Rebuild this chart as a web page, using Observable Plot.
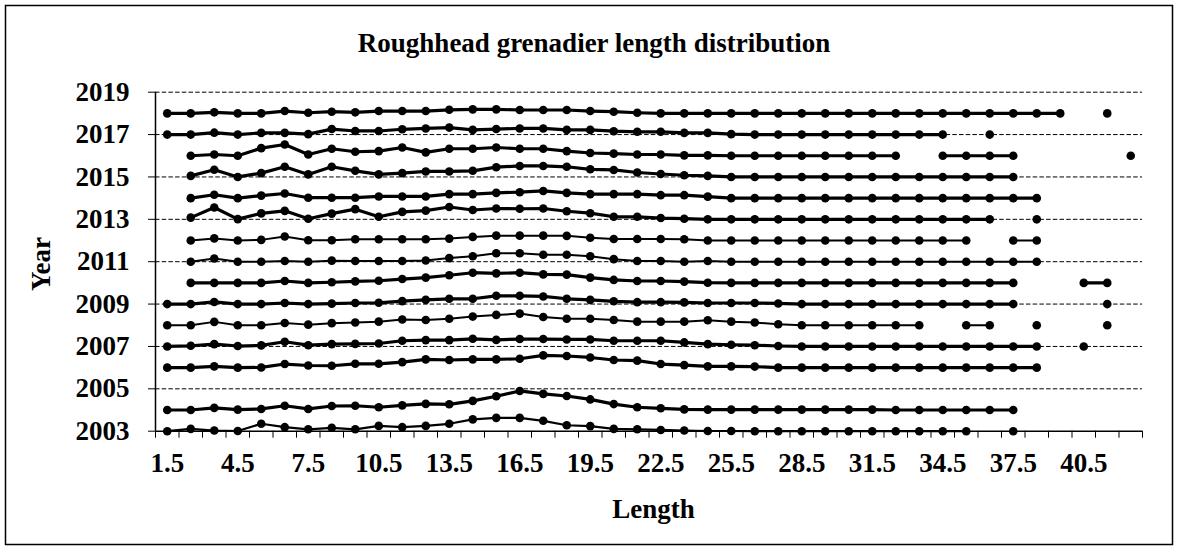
<!DOCTYPE html>
<html>
<head>
<meta charset="utf-8">
<script src="https://cdn.jsdelivr.net/npm/d3@7"></script>
<script src="https://cdn.jsdelivr.net/npm/@observablehq/plot@0.6"></script>
<style>
  body { margin: 0; background: #fff; }
  #chart { width: 1178px; height: 550px; }
</style>
</head>
<body>
<div id="chart"></div>
<script>
// Length classes (category centres)
const lengths = [1.5,2.5,3.5,4.5,5.5,6.5,7.5,8.5,9.5,10.5,11.5,12.5,13.5,14.5,15.5,16.5,17.5,18.5,19.5,20.5,21.5,22.5,23.5,24.5,25.5,26.5,27.5,28.5,29.5,30.5,31.5,32.5,33.5,34.5,35.5,36.5,37.5,38.5,39.5,40.5,41.5,42.5];
const xTickLabels = [1.5,4.5,7.5,10.5,13.5,16.5,19.5,22.5,25.5,28.5,31.5,34.5,37.5,40.5];
const yTicks = [2003,2005,2007,2009,2011,2013,2015,2017,2019];
const gridYears = [2005,2007,2009,2011,2013,2015,2017,2019];
const n = null;

// Height of each length class above the year baseline
const y2003 = [0,0.11,0.03,0.01,0.35,0.19,0.09,0.16,0.09,0.25,0.19,0.25,0.35,0.56,0.63,0.63,0.49,0.28,0.24,0.11,0.09,0.06,0.03,0.01,0.01,0,0,0,0,0,0,0,0,0,0,n,0,n,n,n,n,n];
const y2004 = [0,0,0.1,0.02,0.05,0.2,0.05,0.19,0.2,0.13,0.22,0.29,0.27,0.43,0.65,0.9,0.76,0.66,0.5,0.28,0.13,0.08,0.03,0.02,0.02,0.02,0.02,0.02,0.02,0.02,0.02,0,0,0,0,0,0,n,n,n,n,n];
const y2006 = [0,0,0.06,0,0.01,0.17,0.1,0.09,0.18,0.18,0.26,0.39,0.36,0.39,0.39,0.42,0.58,0.55,0.48,0.36,0.33,0.17,0.12,0.06,0.06,0.05,0,0,0,0,0,0,0,0,0,0,0,0,n,n,n,n];
const y2007 = [0,0.03,0.11,0.02,0.05,0.22,0.06,0.11,0.12,0.14,0.27,0.3,0.3,0.36,0.31,0.35,0.35,0.33,0.33,0.27,0.27,0.27,0.19,0.11,0.08,0.06,0.02,0,0,0,0,0,0,0,0,0,0,0,n,0,n,n];
const y2008 = [0,0,0.16,0,0,0.11,0.03,0.1,0.13,0.17,0.27,0.25,0.31,0.41,0.49,0.55,0.39,0.31,0.31,0.25,0.17,0.17,0.17,0.24,0.17,0.13,0.05,0,0,0,0,0,0,n,0,0,n,0,n,n,0,n];
const y2009 = [0,0,0.1,0,0,0.05,0,0.02,0.05,0.06,0.14,0.2,0.25,0.25,0.39,0.39,0.36,0.25,0.2,0.13,0.09,0.09,0.08,0.05,0.05,0.05,0.03,0,0,0,0,0,0,0,0,0,0,n,n,n,0,n];
const y2010 = [n,0,0,0,0,0.09,0,0.03,0.07,0.1,0.18,0.25,0.36,0.48,0.45,0.48,0.4,0.39,0.25,0.14,0.09,0.09,0.06,0.01,0,0,0,0,0,0,0,0,0,0,0,0,0,n,n,0,0,n];
const y2011 = [n,0,0.15,0,0,0.03,0,0.05,0.03,0.03,0.03,0.06,0.17,0.26,0.4,0.4,0.33,0.33,0.26,0.12,0.03,0.03,0,0.03,0,0,0,0,0,0,0,0,0,0,0,0,0,0,n,n,n,n];
const y2012 = [n,0,0.1,0,0.03,0.19,0.01,0.01,0.06,0.06,0.06,0.06,0.09,0.17,0.23,0.23,0.23,0.22,0.13,0.07,0.07,0.07,0.06,0,0,0,0,0,0,0,0,0,0,0,0,n,0,0,n,n,n,n];
const y2013 = [n,0.08,0.56,0.01,0.28,0.4,0.03,0.27,0.48,0.12,0.35,0.41,0.58,0.44,0.51,0.5,0.51,0.38,0.29,0.12,0.12,0.06,0.03,0,0,0,0,0,0,0,0,0,0,0,0,0,n,0,n,n,n,n];
const y2014 = [n,0,0.16,0,0.12,0.22,0.02,0.02,0.02,0.08,0.08,0.08,0.19,0.19,0.25,0.28,0.34,0.25,0.19,0.19,0.19,0.14,0.14,0.07,0,0,0,0,0,0,0,0,0,0,0,0,0,0,n,n,n,n];
const y2015 = [n,0.05,0.34,0,0.18,0.48,0.12,0.48,0.29,0.12,0.18,0.26,0.26,0.29,0.46,0.52,0.52,0.48,0.36,0.33,0.21,0.14,0.08,0.05,0,0,0,0,0,0,0,0,0,0,0,0,0,n,n,n,n,n];
const y2016 = [n,0,0.06,0,0.36,0.53,0.06,0.33,0.19,0.22,0.39,0.16,0.33,0.33,0.39,0.33,0.33,0.22,0.13,0.1,0.06,0.06,0.02,0.02,0,0,0,0,0,0,0,0,n,0,0,0,0,n,n,n,n,0];
const y2017 = [0,0,0.09,0,0.08,0.08,0.02,0.26,0.17,0.17,0.25,0.29,0.33,0.22,0.26,0.29,0.29,0.22,0.22,0.16,0.13,0.13,0.08,0.08,0.02,0,0,0,0,0,0,0,0,0,n,0,n,n,n,n,n,n];
const y2018 = [0,0,0.05,0,0,0.11,0.03,0.08,0.05,0.11,0.11,0.11,0.17,0.19,0.19,0.16,0.16,0.16,0.11,0.08,0.03,0,0,0,0,0,0,0,0,0,0,0,0,0,0,0,0,0,0,n,0,n];

const seriesList = [
  {year: 2003, values: y2003, w: 2.2},
  {year: 2004, values: y2004, w: 3.2},
  {year: 2006, values: y2006, w: 3.2},
  {year: 2007, values: y2007, w: 3.2},
  {year: 2008, values: y2008, w: 2},
  {year: 2009, values: y2009, w: 3.2},
  {year: 2010, values: y2010, w: 3.2},
  {year: 2011, values: y2011, w: 2},
  {year: 2012, values: y2012, w: 2},
  {year: 2013, values: y2013, w: 3.2},
  {year: 2014, values: y2014, w: 3.2},
  {year: 2015, values: y2015, w: 3.2},
  {year: 2016, values: y2016, w: 3.2},
  {year: 2017, values: y2017, w: 3.2},
  {year: 2018, values: y2018, w: 3.2}
];

const boundaries = d3.range(1, 44);
const FONT = "'Liberation Serif', 'Times New Roman', Times, serif";
const FS = 27;

const seriesMarks = [];
for (const s of seriesList) {
  const rows = lengths.map((len, i) => ({
    len, year: s.year,
    val: s.values[i] == null ? NaN : s.year + s.values[i]
  }));
  seriesMarks.push(Plot.line(rows, {x: "len", y: "val", stroke: "black", strokeWidth: s.w, strokeLinejoin: "round"}));
  seriesMarks.push(Plot.dot(rows.filter(d => !isNaN(d.val)), {x: "len", y: "val", r: 4.3, fill: "black", stroke: "none"}));
}

const chart = Plot.plot({
  width: 1178,
  height: 550,
  marginLeft: 155,
  marginRight: 36,
  marginTop: 91.7,
  marginBottom: 119.3,
  x: {domain: [1, 43]},
  y: {domain: [2003, 2019]},
  style: {fontFamily: FONT, fontWeight: "bold", fontSize: FS + "px", color: "black", background: "white"},
  marks: [
    Plot.ruleY(gridYears, {stroke: "black", strokeWidth: 1, strokeDasharray: "4.5,2.2"}),
    Plot.axisY({ticks: yTicks, tickSize: 7, tickPadding: 19, tickFormat: d => String(d), label: null, fontSize: FS, fontWeight: "bold", stroke: "black"}),
    Plot.axisX({ticks: boundaries, tickSize: 7, tickFormat: () => "", label: null, stroke: "black"}),
    Plot.axisX({ticks: xTickLabels, tickSize: 0, tickPadding: 22, tickFormat: d => d.toFixed(1), label: null, fontSize: FS, fontWeight: "bold"}),
    Plot.ruleX([1], {stroke: "black", strokeWidth: 1.5}),
    Plot.ruleY([2003], {stroke: "black", strokeWidth: 1.5}),
    ...seriesMarks
  ]
});

const svg = d3.select(chart);
svg.insert("rect", ":first-child")
  .attr("x", 5.5).attr("y", 5.5).attr("width", 1167).attr("height", 539)
  .attr("fill", "white").attr("stroke", "black").attr("stroke-width", 1.5);
svg.append("text")
  .attr("x", 594).attr("y", 52).attr("text-anchor", "middle")
  .attr("font-family", FONT).attr("font-weight", "bold").attr("font-size", FS)
  .attr("fill", "black")
  .text("Roughhead grenadier length distribution");
svg.append("text")
  .attr("transform", "translate(50,264) rotate(-90)").attr("text-anchor", "middle")
  .attr("font-family", FONT).attr("font-weight", "bold").attr("font-size", FS)
  .attr("fill", "black")
  .text("Year");
svg.append("text")
  .attr("x", 653.5).attr("y", 518).attr("text-anchor", "middle")
  .attr("font-family", FONT).attr("font-weight", "bold").attr("font-size", FS)
  .attr("fill", "black")
  .text("Length");

document.getElementById("chart").appendChild(chart);
</script>
</body>
</html>
